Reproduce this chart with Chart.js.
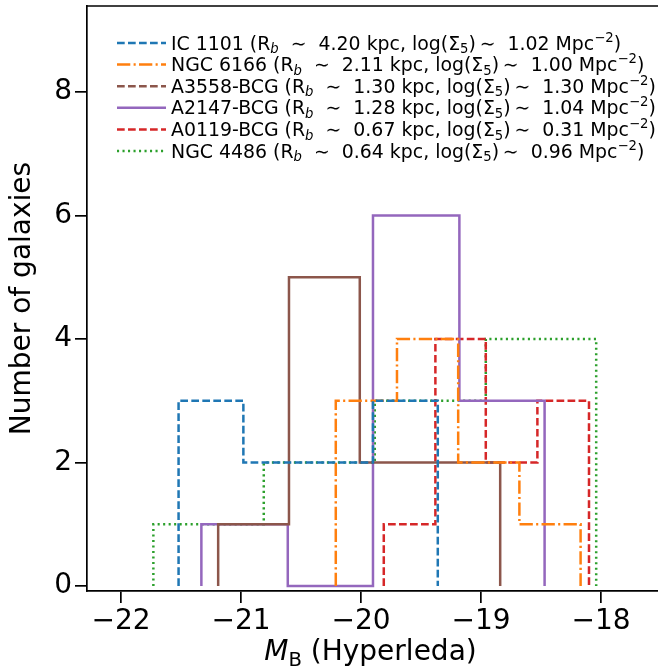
<!DOCTYPE html>
<html>
<head>
<meta charset="utf-8">
<script src="https://cdn.jsdelivr.net/npm/chart.js@4.4.1/dist/chart.umd.min.js"></script>
<style>
  body { margin: 0; background: #fff; }
  canvas { display: block; }
</style>
</head>
<body>
<canvas id="grafico" width="658" height="669"></canvas>
<script>
// galaxies, in legend order
const galaxyNames = ["IC 1101", "NGC 6166", "A3558-BCG", "A2147-BCG", "A0119-BCG", "NGC 4486"];
const breakRadius = ["4.20", "2.11", "1.30", "1.28", "0.67", "0.64"];   // R_b, kpc
const logSigma5 = ["1.02", "1.00", "1.30", "1.04", "0.31", "0.96"];     // Mpc^-2

// histogram bin edges (M_B) and counts per galaxy
const ic1101Edges = [-21.52, -20.98, -20.44, -19.90, -19.36];
const ic1101Counts = [3, 2, 2, 3];
const ngc6166Edges = [-20.21, -19.70, -19.19, -18.68, -18.17];
const ngc6166Counts = [3, 4, 2, 1];
const a3558Edges = [-21.19, -20.60, -20.01, -19.42, -18.84];
const a3558Counts = [1, 5, 2, 2];
const a2147Edges = [-21.33, -20.61, -19.90, -19.18, -18.47];
const a2147Counts = [1, 0, 6, 3];
const a0119Edges = [-19.81, -19.38, -18.96, -18.53, -18.10];
const a0119Counts = [1, 4, 2, 3];
const ngc4486Edges = [-21.73, -20.81, -19.885, -18.96, -18.04];
const ngc4486Counts = [1, 2, 3, 4];

const xTicks = [-22, -21, -20, -19, -18];
const yTicks = [0, 2, 4, 6, 8];

const DASHED = [7.7, 3.3];
const DOTTED = [2.1, 3.4];
const DASHDOT = [13.3, 3.3, 2.1, 3.3];
const FONT = "DejaVu Sans";
const LINE_W = 2.5;

const series = [
    { edges: ic1101Edges, counts: ic1101Counts, color: "#1f77b4", dash: DASHED },
    { edges: ngc6166Edges, counts: ngc6166Counts, color: "#ff7f0e", dash: DASHDOT },
    { edges: a3558Edges, counts: a3558Counts, color: "#8c564b", dash: [], legendDash: DASHED },
    { edges: a2147Edges, counts: a2147Counts, color: "#9467bd", dash: [] },
    { edges: a0119Edges, counts: a0119Counts, color: "#d62728", dash: DASHED },
    { edges: ngc4486Edges, counts: ngc4486Counts, color: "#2ca02c", dash: DOTTED },
];

// outline of a step histogram, like matplotlib histtype='step'
function stepOutline(edges, counts) {
    const pts = [{ x: edges[0], y: 0 }];
    counts.forEach((c, i) => {
        pts.push({ x: edges[i], y: c });
        pts.push({ x: edges[i + 1], y: c });
    });
    pts.push({ x: edges[edges.length - 1], y: 0 });
    return pts;
}

const fmtTick = (v) => (v < 0 ? "\u2212" + Math.abs(v) : String(v));

// draws text made of pieces with sub/superscripts, returns the end x
function drawParts(ctx, parts, x, y, size, measureOnly) {
    let cx = x;
    parts.forEach((p) => {
        const fs = p.sub || p.sup ? size * 0.7 : size;
        ctx.font = (p.italic ? "italic " : "") + fs + "px " + FONT;
        let dy = 0;
        if (p.sub) dy = size * 0.2;
        if (p.sup) dy = -size * 0.42;
        if (!measureOnly) ctx.fillText(p.t, cx, y + dy);
        cx += ctx.measureText(p.t).width;
    });
    return cx;
}

function legendParts(i) {
    return [
        { t: galaxyNames[i] + " (R" },
        { t: "b", sub: true, italic: true },
        { t: "  \u223C  " + breakRadius[i] + " kpc, log(\u03A3" },
        { t: "5", sub: true },
        { t: ")\u2009\u223C  " + logSigma5[i] + " Mpc" },
        { t: "\u22122", sup: true },
        { t: ")" },
    ];
}

const framePlugin = {
    id: "frame",
    afterDraw(chart) {
        const { ctx, chartArea } = chart;
        ctx.save();
        ctx.strokeStyle = "#000";
        ctx.lineWidth = 1.7;
        ctx.beginPath();
        ctx.moveTo(chartArea.left, chartArea.top);
        ctx.lineTo(chartArea.right, chartArea.top);
        ctx.stroke();
        ctx.restore();
    }
};

const legendPlugin = {
    id: "customLegend",
    afterDraw(chart) {
        const { ctx } = chart;
        const size = 18.9;
        ctx.save();
        series.forEach((s, i) => {
            const cy = 43 + i * 21.6;
            ctx.strokeStyle = s.color;
            ctx.lineWidth = LINE_W;
            ctx.setLineDash(s.legendDash || s.dash);
            ctx.beginPath();
            ctx.moveTo(117, cy);
            ctx.lineTo(166, cy);
            ctx.stroke();
            ctx.fillStyle = "#000";
            ctx.textBaseline = "alphabetic";
            drawParts(ctx, legendParts(i), 171, cy + 6.5, size);
        });
        ctx.restore();
    }
};

const xLabelPlugin = {
    id: "xLabel",
    afterDraw(chart) {
        const { ctx, chartArea } = chart;
        const parts = [{ t: "M", italic: true }, { t: "B", sub: true }, { t: " (Hyperleda)" }];
        ctx.save();
        ctx.fillStyle = "#000";
        ctx.textBaseline = "alphabetic";
        const w = drawParts(ctx, parts, 0, 0, 28, true);
        drawParts(ctx, parts, (chartArea.left + chartArea.right) / 2 - w / 2 - 2, 660, 28);
        ctx.restore();
    }
};

// keep the plot box fixed: no extra room for half tick labels
const noLabelPadding = (s) => {
    s.paddingTop = 0;
    s.paddingBottom = 0;
    s.paddingLeft = 0;
    s.paddingRight = 0;
};

document.addEventListener("DOMContentLoaded", () => {
    const ctx = document.getElementById("grafico").getContext("2d");

    new Chart(ctx, {
        type: "line",
        data: {
            datasets: series.map((s, i) => ({
                label: galaxyNames[i],
                data: stepOutline(s.edges, s.counts),
                borderColor: s.color,
                borderWidth: LINE_W,
                borderDash: s.dash,
                pointRadius: 0,
                tension: 0,
                fill: false,
            }))
        },
        options: {
            responsive: false,
            animation: false,
            devicePixelRatio: 1,
            layout: { padding: { top: 6, right: 0, bottom: 0, left: 0 } },
            plugins: {
                legend: { display: false },
                tooltip: { enabled: false }
            },
            scales: {
                x: {
                    type: "linear",
                    min: -22.283,
                    max: -17.525,
                    afterBuildTicks: (s) => { s.ticks = xTicks.map((v) => ({ value: v })); },
                    afterFit: (s) => { s.height = 78; noLabelPadding(s); },
                    border: { display: true, color: "#000", width: 1.7 },
                    grid: { drawOnChartArea: false, drawTicks: true, tickLength: 12, color: "#000", lineWidth: 1.7 },
                    ticks: {
                        color: "#000", font: { family: FONT, size: 28 }, padding: 2,
                        maxRotation: 0, autoSkip: false, callback: fmtTick
                    }
                },
                y: {
                    type: "linear",
                    min: -0.081,
                    max: 9.393,
                    afterBuildTicks: (s) => { s.ticks = yTicks.map((v) => ({ value: v })); },
                    afterFit: (s) => { s.width = 87; noLabelPadding(s); },
                    border: { display: true, color: "#000", width: 1.7 },
                    grid: { drawOnChartArea: false, drawTicks: true, tickLength: 12, color: "#000", lineWidth: 1.7 },
                    ticks: {
                        color: "#000", font: { family: FONT, size: 28 }, padding: 3,
                        autoSkip: false, callback: fmtTick
                    },
                    title: {
                        display: true,
                        text: "Number of galaxies",
                        color: "#000",
                        font: { family: FONT, size: 28 },
                        padding: { top: 6, bottom: 0 }
                    }
                }
            }
        },
        plugins: [framePlugin, legendPlugin, xLabelPlugin]
    });
});
</script>
</body>
</html>
